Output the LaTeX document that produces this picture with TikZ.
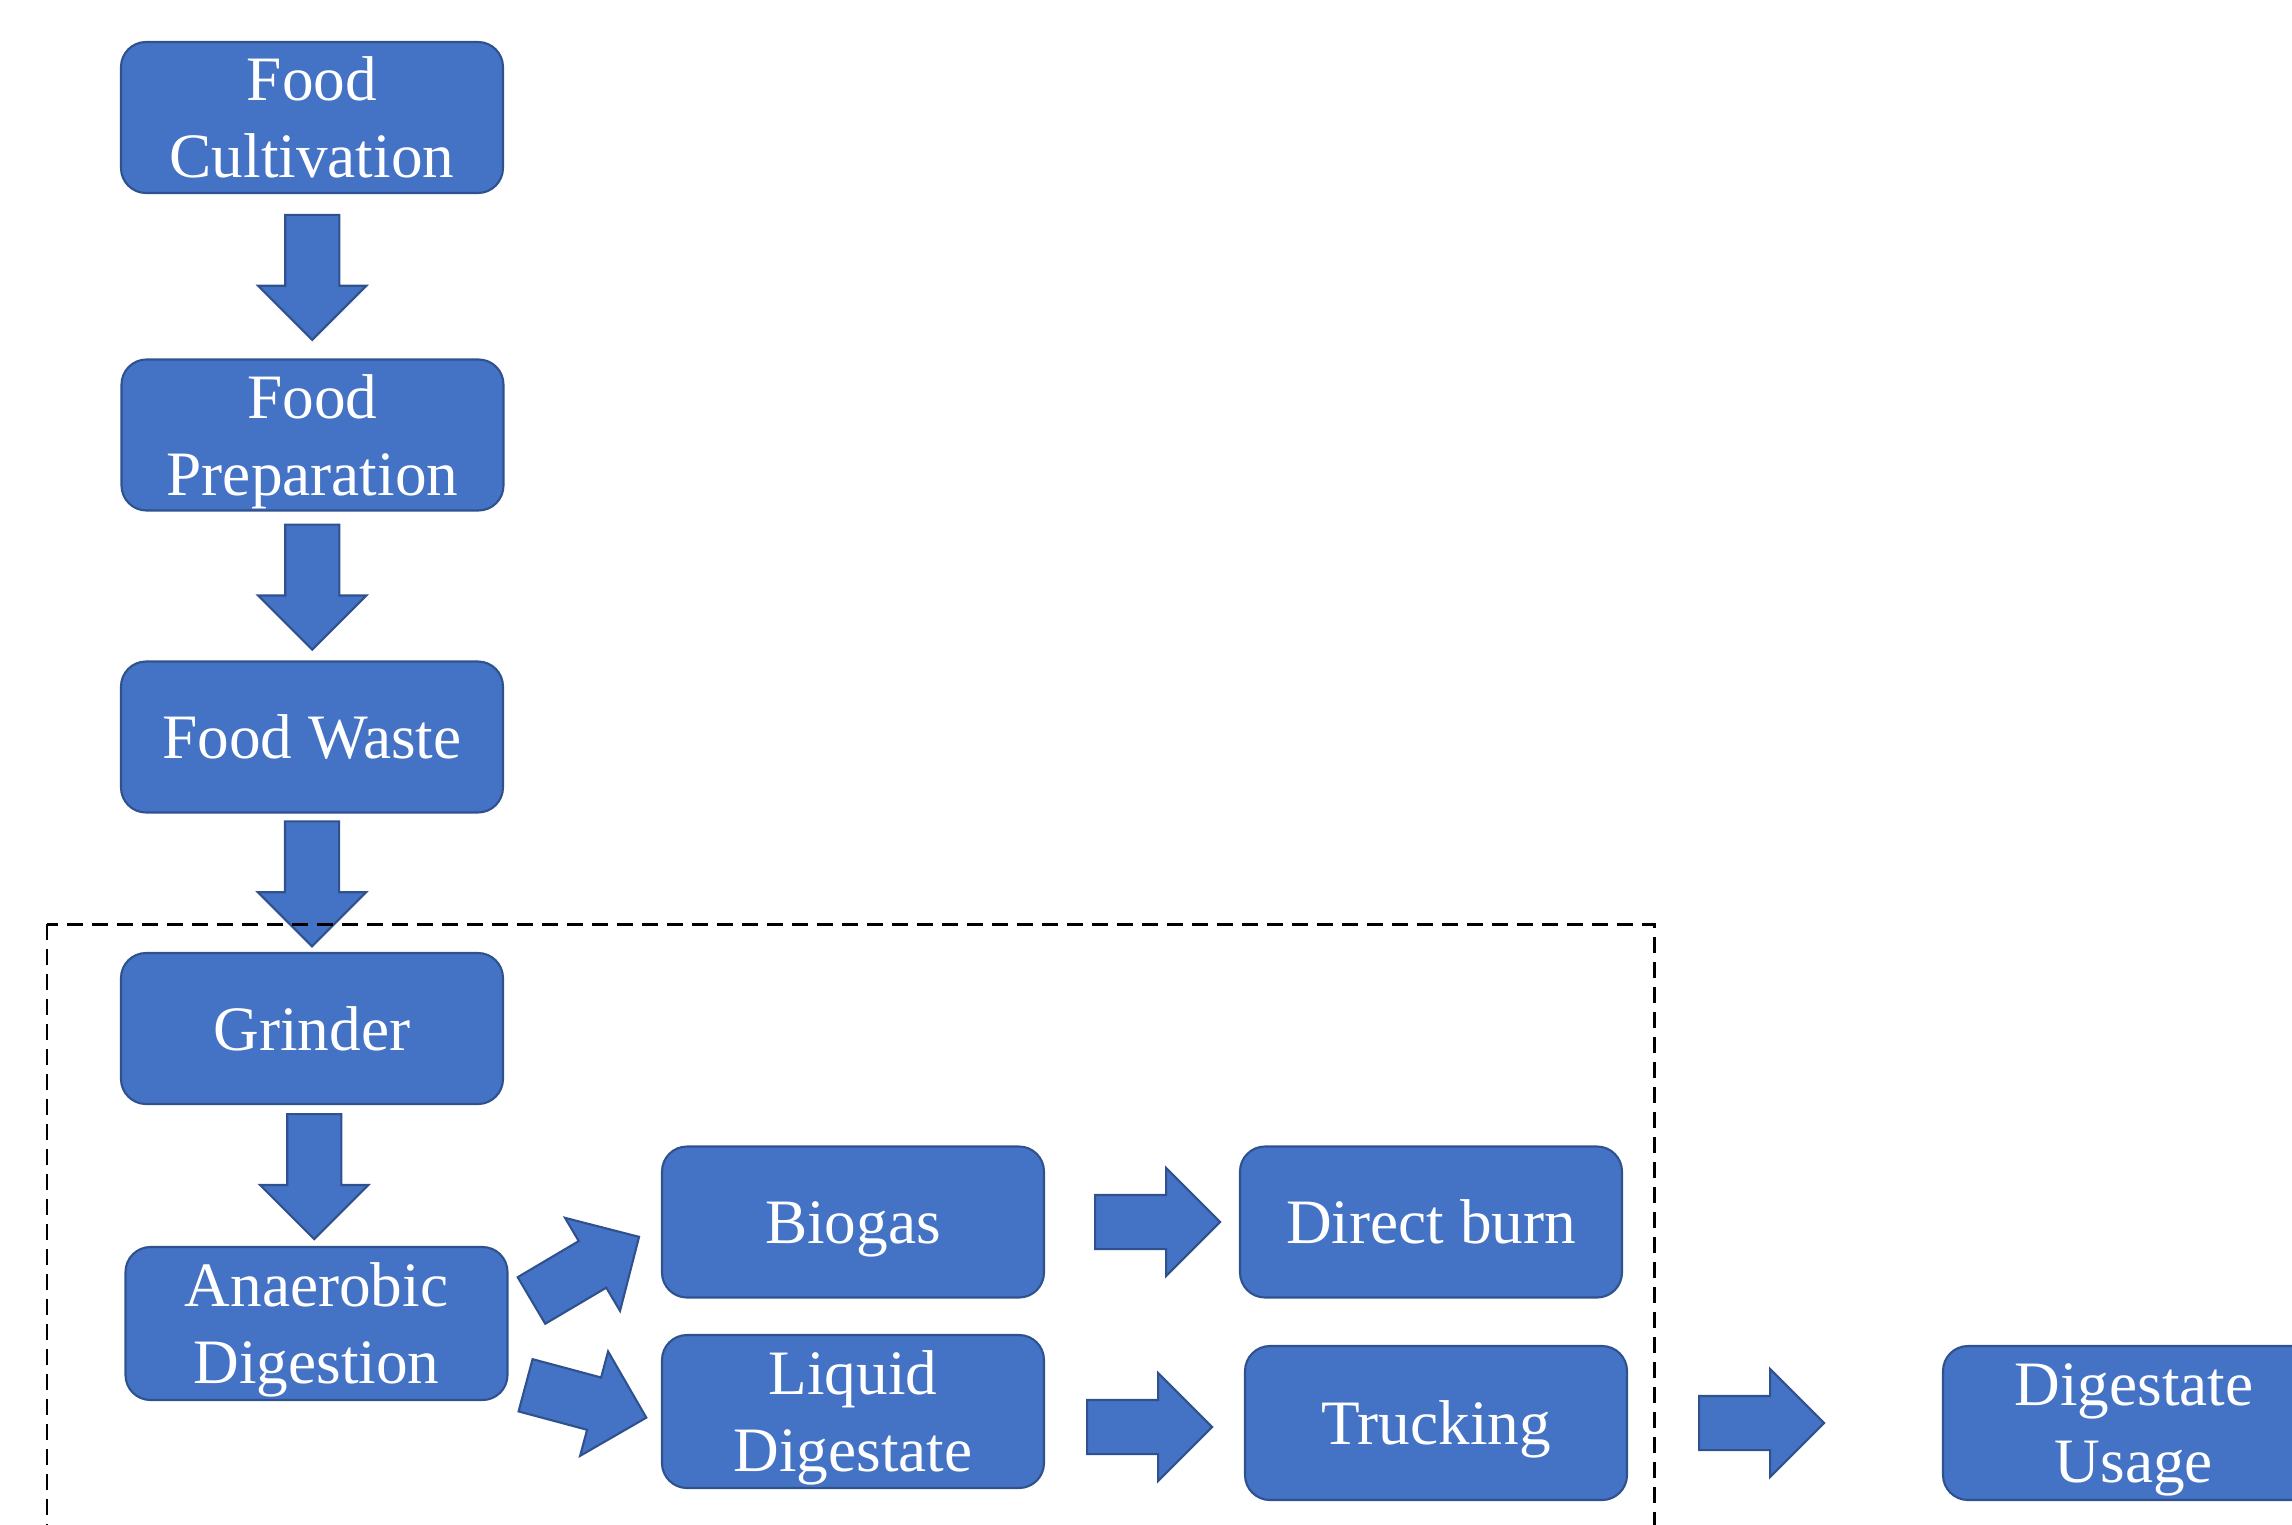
\documentclass[tikz,border=0pt]{standalone}
\usepackage{fontspec}
\setmainfont{Liberation Serif}
\usepackage{tikz}
\usetikzlibrary{shapes.arrows, calc}

\definecolor{boxblue}{HTML}{4472C4}
\definecolor{edgeblue}{HTML}{2F528F}

\tikzset{
  stage/.style = {draw = edgeblue, line width = 0.6pt, fill = boxblue, rounded corners = 0.25cm,
    minimum width = 3.82cm, minimum height = 1.51cm, inner sep = 0pt, align = center,
    text = white, text depth = 0cm, font = \fontsize{18}{21.9}\selectfont},
  oneline/.style = {text height = 0.43cm},
  flow/.style = {single arrow, draw = edgeblue, line width = 0.6pt, fill = boxblue,
    minimum height = 1.25cm, minimum width = 1.06cm, single arrow head extend = 0.27cm,
    single arrow head indent = 0pt, inner sep = 0.26cm, anchor = tail},
  boundary/.style = {black, line width = 0.85pt, dash pattern = on 0.16cm off 0.09cm}
}

\begin{document}
\begin{tikzpicture}

\useasboundingbox (0,0) rectangle (22.92,-15.24);
\clip (0,0) rectangle (22.92,-15.24);

\node[stage] (cult) at (3.12,-1.175) {Food\\Cultivation};
\node[stage] (prep) at (3.125,-4.35) {Food\\Preparation};
\node[stage, oneline] (waste) at (3.12,-7.37) {Food Waste};
\node[stage, oneline] (grind) at (3.12,-10.285) {Grinder};
\node[stage, minimum height = 1.53cm] (ad) at (3.165,-13.235) {Anaerobic\\Digestion};
\node[stage, oneline] (biogas) at (8.53,-12.22) {Biogas};
\node[stage, minimum height = 1.53cm] (liquid) at (8.53,-14.115) {Liquid\\Digestate};
\node[stage, oneline] (burn) at (14.31,-12.22) {Direct burn};
\node[stage, oneline, minimum height = 1.54cm] (truck) at (14.36,-14.23) {Trucking};
\node[stage, minimum height = 1.54cm] (usage) at (21.34,-14.23) {Digestate\\Usage};

\foreach \a/\b in {cult/prep, prep/waste, waste/grind, grind/ad} {
	\node[flow, rotate = -90] (\a-\b) at ($(\a.south)!0.5!(\b.north)+(0,0.625)$) {};
}

\node[flow, rotate = 30.6] (ad-biogas) at ($(ad.east)+(0.22,0.225)$) {};
\node[flow, rotate = -15] (ad-liquid) at ($(ad.east)+(0.16,-0.615)$) {};
\node[flow] (biogas-burn) at ($(biogas.east)+(0.49,0)$) {};
\node[flow] (liquid-truck) at ($(liquid.east)+(0.41,-0.155)$) {};
\node[flow] (truck-usage) at ($(truck.east)+(0.70,0)$) {};

\draw[boundary] (0.47,-9.24) rectangle (16.54,-15.6);
\end{tikzpicture}
\end{document}
